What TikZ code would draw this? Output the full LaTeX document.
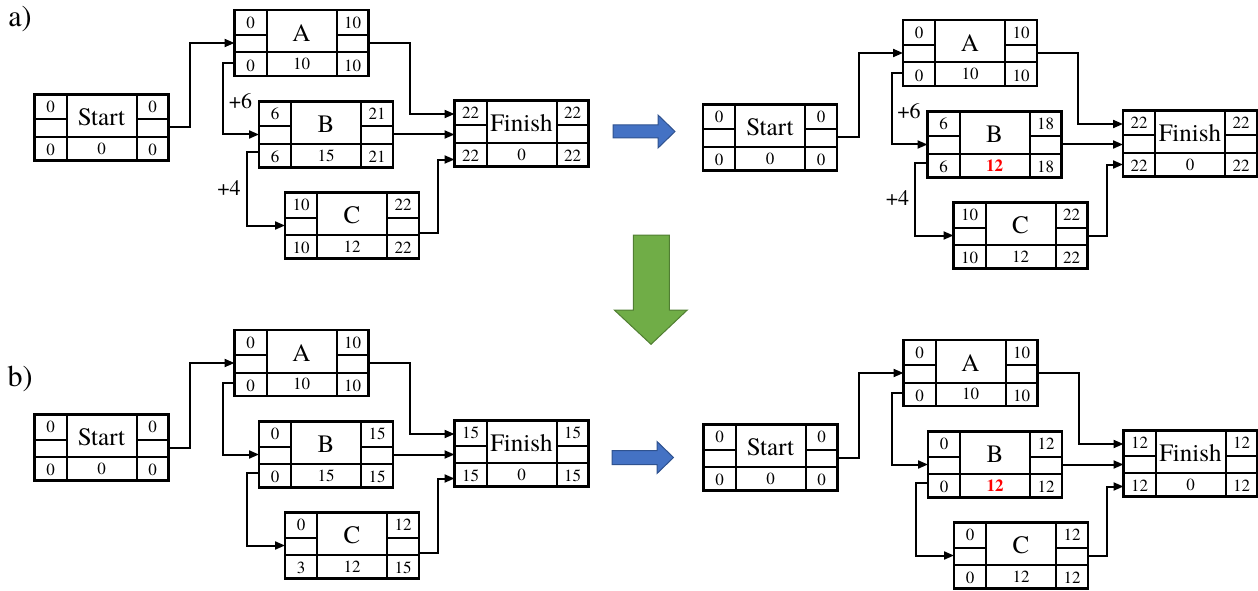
\documentclass[tikz,border=0pt]{standalone}
\usepackage{fontspec}
\setmainfont{TeX Gyre Termes}
\usetikzlibrary{arrows.meta,calc}

\definecolor{flowblue}{HTML}{4472C4}
\definecolor{flowblueedge}{HTML}{2F528F}
\definecolor{flowgreen}{HTML}{70AD47}
\definecolor{flowgreenedge}{HTML}{507E32}

\tikzset{
  actframe/.style={draw, line width=2.2pt, minimum width=134pt, minimum height=66pt,
                   inner sep=0pt, outer sep=0pt, anchor=north west},
  cellline/.style={line width=2pt},
  numtext/.style={font=\fontsize{17}{17}\selectfont, inner sep=0pt},
  titletext/.style={font=\fontsize{25}{25}\selectfont, inner sep=0pt},
  lagtext/.style={font=\fontsize{22}{22}\selectfont, inner sep=0pt},
  parttext/.style={font=\fontsize{30}{30}\selectfont, inner sep=0pt},
  link/.style={line width=2pt, -{Triangle[length=10pt,width=8pt]}},
  bluearrow/.style={fill=flowblue, draw=flowblueedge, line width=1pt},
  greenarrow/.style={fill=flowgreen, draw=flowgreenedge, line width=1pt},
}

% activity box: name, top-left corner, title, ES, EF, LS, duration, LF
\newcommand{\activity}[8]{%
  \node[actframe] (#1) at (#2) {};
  \draw[cellline] ([xshift=32pt]#1.north west) -- ([xshift=32pt]#1.south west);
  \draw[cellline] ([xshift=-32pt]#1.north east) -- ([xshift=-32pt]#1.south east);
  \draw[cellline] ([yshift=-42.5pt]#1.north west) -- ([yshift=-42.5pt]#1.north east);
  \draw[cellline] ([yshift=-25pt]#1.north west) -- ([xshift=32pt,yshift=-25pt]#1.north west);
  \draw[cellline] ([xshift=-32pt,yshift=-25pt]#1.north east) -- ([yshift=-25pt]#1.north east);
  \node[titletext] (#1-name) at ([xshift=67pt,yshift=-23pt]#1.north west) {#3};
  \node[numtext] (#1-es) at ([xshift=16pt,yshift=-12.5pt]#1.north west) {#4};
  \node[numtext] (#1-ef) at ([xshift=-16pt,yshift=-12.5pt]#1.north east) {#5};
  \node[numtext] (#1-ls) at ([xshift=16pt,yshift=10.5pt]#1.south west) {#6};
  \node[numtext] (#1-dur) at ([xshift=67pt,yshift=12pt]#1.south west) {#7};
  \node[numtext] (#1-lf) at ([xshift=-16pt,yshift=10.5pt]#1.south east) {#8};
}

% precedence links of one network: prefix, C exit shift, Finish entry shift
\newcommand{\links}[3]{%
  \draw[link] (#1S.east) -- ++(21.7,0) |- (#1A.west);
  \draw[link] ([yshift=-20pt]#1A.west) -- ++(-11.5,0) |- (#1B.west);
  \draw[link] ([yshift=-18pt]#1B.west) -- ++(-12.5,0) |- (#1C.west);
  \draw[link] (#1A.east) -- ++(41,0) |- ([yshift=19.5pt]#1F.west);
  \draw[link] (#1B.east) -- (#1B.east -| #1F.west);
  \draw[link] ([yshift=#2]#1C.east) -- ++(19,0) |- ([yshift=#3]#1F.west);
}

% network layout: five boxes
\newcommand{\network}[1]{%
  \coordinate (#1pS) at (34.5,94.5);
  \coordinate (#1pA) at (234.5,10);
  \coordinate (#1pB) at (259,101.5);
  \coordinate (#1pF) at (454.5,100.5);
  \coordinate (#1pC) at (285,192.5);
}

\newcommand{\lags}[1]{%
  \node[lagtext] (#1lag6) at ($(#1A.south west)+(6,25)$) {+6};
  \node[lagtext] (#1lag4) at ($(#1B.south west)+(-30,21)$) {+4};
}

\newcommand{\crash}[1]{\textcolor{red}{\bfseries #1}}

\begin{document}
\begin{tikzpicture}[x=1pt,y=-1pt]
\useasboundingbox (0,0) rectangle (1258,591);

\node[parttext] (parta) at (20,19.5) {a)};
\node[parttext] (partb) at (20,379) {b)};

% a) original schedule
\begin{scope}
  \network{aL}
  \activity{aLS}{aLpS}{Start}{0}{0}{0}{0}{0}
  \activity{aLA}{aLpA}{A}{0}{10}{0}{10}{10}
  \activity{aLB}{aLpB}{B}{6}{21}{6}{15}{21}
  \activity{aLF}{aLpF}{Finish}{22}{22}{22}{0}{22}
  \activity{aLC}{aLpC}{C}{10}{22}{10}{12}{22}
  \links{aL}{-7pt}{-26pt}
  \lags{aL}
\end{scope}

% a) B shortened
\begin{scope}[shift={(668.5,10)}]
  \network{aR}
  \activity{aRS}{aRpS}{Start}{0}{0}{0}{0}{0}
  \activity{aRA}{aRpA}{A}{0}{10}{0}{10}{10}
  \activity{aRB}{aRpB}{B}{6}{18}{6}{\crash{12}}{18}
  \activity{aRF}{aRpF}{Finish}{22}{22}{22}{0}{22}
  \activity{aRC}{aRpC}{C}{10}{22}{10}{12}{22}
  \links{aR}{0pt}{-21pt}
  \lags{aR}
\end{scope}

% b) original schedule
\begin{scope}[shift={(0,320)}]
  \network{bL}
  \activity{bLS}{bLpS}{Start}{0}{0}{0}{0}{0}
  \activity{bLA}{bLpA}{A}{0}{10}{0}{10}{10}
  \activity{bLB}{bLpB}{B}{0}{15}{0}{15}{15}
  \activity{bLF}{bLpF}{Finish}{15}{15}{15}{0}{15}
  \activity{bLC}{bLpC}{C}{0}{12}{3}{12}{15}
  \links{bL}{-7pt}{-25pt}
\end{scope}

% b) B shortened
\begin{scope}[shift={(669,330)}]
  \network{bR}
  \activity{bRS}{bRpS}{Start}{0}{0}{0}{0}{0}
  \activity{bRA}{bRpA}{A}{0}{10}{0}{10}{10}
  \activity{bRB}{bRpB}{B}{0}{12}{0}{\crash{12}}{12}
  \activity{bRF}{bRpF}{Finish}{12}{12}{12}{0}{12}
  \activity{bRC}{bRpC}{C}{0}{12}{0}{12}{12}
  \links{bR}{0pt}{-23pt}
\end{scope}

% block arrows between the stages
\draw[bluearrow] (613,125) -- (658,125) -- (658,115) -- (675,131.5) -- (658,148)
  -- (658,138) -- (613,138) -- cycle;
\draw[bluearrow] (612,450.5) -- (657,450.5) -- (657,441.5) -- (673.5,457.5) -- (657,473.5)
  -- (657,464.5) -- (612,464.5) -- cycle;
\draw[greenarrow] (633.3,235) -- (669.3,235) -- (669.3,310) -- (687.3,310) -- (651,344.3)
  -- (614.3,310) -- (633.3,310) -- cycle;
\end{tikzpicture}
\end{document}
